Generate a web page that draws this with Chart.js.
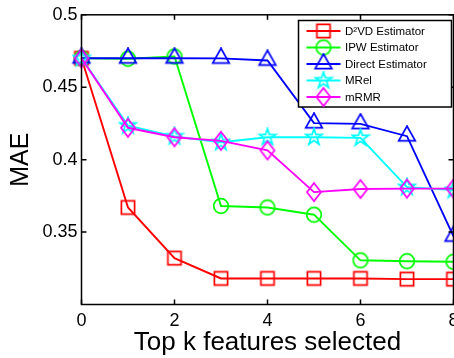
<!DOCTYPE html>
<html><head><meta charset="utf-8">
<script src="https://cdn.jsdelivr.net/npm/chart.js@4.4.1/dist/chart.umd.min.js"></script>
<style>html,body{margin:0;padding:0;overflow:hidden;background:#fff;width:454px;height:358px}
#wrap{width:480px;height:358px}</style></head><body>
<div id="wrap"><canvas id="c" width="480" height="358"></canvas></div>
<script>
const kValues = [0,1,2,3,4,5,6,7,8];
const seriesNames = ['D\u00B2VD Estimator','IPW Estimator','Direct Estimator','MRel','mRMR'];
const d2vd   = [0.470,0.367,0.332,0.318,0.318,0.318,0.318,0.3175,0.3175];
const ipw    = [0.470,0.4697,0.4712,0.368,0.367,0.362,0.3305,0.3299,0.3295];
const direct = [0.470,0.470,0.470,0.4699,0.4685,0.4252,0.4247,0.4162,0.347];
const mrel   = [0.470,0.4235,0.416,0.412,0.4155,0.4155,0.415,0.381,0.379];
const mrmr   = [0.470,0.422,0.4155,0.413,0.4064,0.3776,0.3797,0.3800,0.3800];
const xTicks = [0,2,4,6,8];
const yTicks = [0.35,0.4,0.45,0.5];
const yTickLabels = ['0.35','0.4','0.45','0.5'];
const xTitle = 'Top k features selected';
const yTitle = 'MAE';

const FONT = "'Liberation Sans', Arial, Helvetica, sans-serif";

function mk(w,h,color,draw){
  const c=document.createElement('canvas');c.width=w;c.height=h;
  const g=c.getContext('2d');g.strokeStyle=color;g.lineWidth=1.7;g.lineJoin='miter';
  g.beginPath();draw(g,w/2,h/2);g.stroke();return c;
}
const mSquare = mk(18,18,'#ff0000',(g,cx,cy)=>g.rect(cx-6.6,cy-6.6,13.2,13.2));
const mCircle = mk(18,18,'#00ff00',(g,cx,cy)=>g.arc(cx,cy,7.3,0,Math.PI*2));
const mTri = mk(22,22,'#0000ff',(g,cx,cy)=>{g.moveTo(cx,cy-10);g.lineTo(cx+8.3,cy+4.6);g.lineTo(cx-8.3,cy+4.6);g.closePath();});
const mStar = mk(20,20,'#00ffff',(g,cx,cy)=>{for(let i=0;i<10;i++){const r=i%2?3.3:8.6;const a=-Math.PI/2+i*Math.PI/5;const px=cx+r*Math.cos(a),py=cy+r*Math.sin(a); if(i) g.lineTo(px,py); else g.moveTo(px,py);} g.closePath();});
const mDiam = mk(18,22,'#ff00ff',(g,cx,cy)=>{g.moveTo(cx,cy-9);g.lineTo(cx+7,cy);g.lineTo(cx,cy+9);g.lineTo(cx-7,cy);g.closePath();});

const seriesVals = [d2vd, ipw, direct, mrel, mrmr];
const colors = ['#ff0000','#00ff00','#0000ff','#00ffff','#ff00ff'];
const markers = [mSquare, mCircle, mTri, mStar, mDiam];

const datasets = seriesVals.map((vals,i)=>({
  label: seriesNames[i],
  data: kValues.map((k,j)=>({x:k,y:vals[j]})),
  borderColor: colors[i],
  backgroundColor: colors[i],
  borderWidth: 1.9,
  pointStyle: markers[i],
  pointRadius: 8,
  pointHoverRadius: 8,
  tension: 0,
  fill: false,
  clip: false,
  order: 5 - i
}));

const framePlugin = {
  id: 'frame',
  afterDraw(chart){
    const {ctx, chartArea:a, scales:{x,y}} = chart;
    ctx.save();
    ctx.strokeStyle='#000'; ctx.lineWidth=1.5;
    ctx.strokeRect(a.left,a.top,a.right-a.left,a.bottom-a.top);
    const L=5;
    ctx.beginPath();
    xTicks.forEach(v=>{const px=x.getPixelForValue(v);ctx.moveTo(px,a.bottom);ctx.lineTo(px,a.bottom-L);ctx.moveTo(px,a.top);ctx.lineTo(px,a.top+L);});
    yTicks.forEach(v=>{const py=y.getPixelForValue(v);ctx.moveTo(a.left,py);ctx.lineTo(a.left+L,py);ctx.moveTo(a.right,py);ctx.lineTo(a.right-L,py);});
    ctx.stroke();
    // legend
    const bx=298.5, by=20.5, bw=153, bh=86.5;
    ctx.fillStyle='#fff'; ctx.fillRect(bx,by,bw,bh);
    ctx.lineWidth=1.5; ctx.strokeStyle='#000'; ctx.strokeRect(bx,by,bw,bh);
    const rows=[31,47.5,64,80.5,97];
    ctx.font = "11.5px " + FONT; ctx.textBaseline='middle'; ctx.textAlign='left';
    rows.forEach((ry,i)=>{
      ctx.strokeStyle=colors[i]; ctx.lineWidth=1.9;
      ctx.beginPath(); ctx.moveTo(306.5,ry); ctx.lineTo(340.5,ry); ctx.stroke();
      const m=markers[i]; ctx.drawImage(m,323.5-m.width/2,ry-m.height/2);
      ctx.fillStyle='#000'; ctx.fillText(seriesNames[i],345,ry+0.5);
    });
    ctx.restore();
  }
};

new Chart(document.getElementById('c'), {
  type: 'line',
  data: { datasets },
  options: {
    responsive: false,
    animation: false,
    devicePixelRatio: 1,
    layout: { padding: { left: 0, top: 13.3, right: 26.5, bottom: 0 } },
    plugins: { legend: { display: false }, tooltip: { enabled: false } },
    scales: {
      x: {
        type: 'linear', min: 0, max: 8,
        grid: { display: false, drawTicks: false },
        border: { display: false },
        afterBuildTicks: s => { s.ticks = xTicks.map(v=>({value:v})); },
        afterFit: s => { s.height = 53.5; },
        ticks: { autoSkip:false, maxRotation:0, padding: 6, color:'#000', font:{family:FONT,size:18}, callback: v => String(v) },
        title: { display: true, text: xTitle, color:'#000', font:{family:FONT,size:26}, padding:{top:0,bottom:0} }
      },
      y: {
        type: 'linear', min: 0.3, max: 0.5,
        grid: { display: false, drawTicks: false },
        border: { display: false },
        afterBuildTicks: s => { s.ticks = yTicks.map(v=>({value:v})); },
        afterFit: s => { s.width = 81.5; },
        ticks: { autoSkip:false, padding: 4, color:'#000', font:{family:FONT,size:18}, callback: v => yTickLabels[yTicks.indexOf(v)] },
        title: { display: true, text: yTitle, color:'#000', font:{family:FONT,size:25}, padding:{top:6,bottom:0} }
      }
    }
  },
  plugins: [framePlugin]
});
</script></body></html>
